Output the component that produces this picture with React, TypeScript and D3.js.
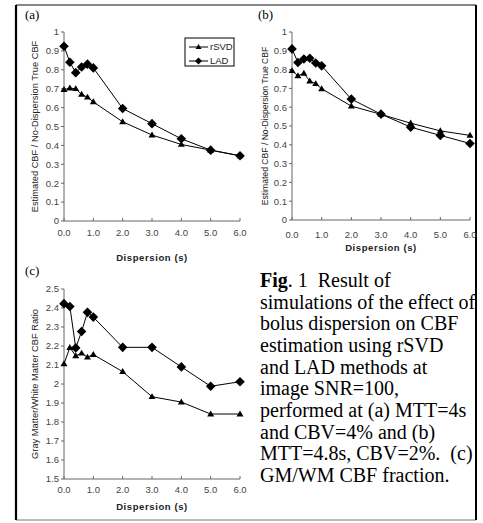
import React from "react";
import * as d3 from "d3";

const dispersion = [0, 0.2, 0.4, 0.6, 0.8, 1, 2, 3, 4, 5, 6];
const aRSVD = [0.695, 0.703, 0.7, 0.67, 0.655, 0.63, 0.525, 0.455, 0.405, 0.375, 0.345];
const aLAD = [0.925, 0.84, 0.785, 0.815, 0.83, 0.81, 0.595, 0.515, 0.435, 0.375, 0.345];
const bRSVD = [0.794, 0.767, 0.78, 0.739, 0.725, 0.698, 0.606, 0.562, 0.515, 0.474, 0.45];
const bLAD = [0.91, 0.838, 0.856, 0.86, 0.835, 0.82, 0.643, 0.563, 0.494, 0.45, 0.407];
const cRSVD = [2.106, 2.192, 2.148, 2.162, 2.141, 2.155, 2.065, 1.933, 1.905, 1.842, 1.842];
const cLAD = [2.423, 2.408, 2.19, 2.276, 2.377, 2.352, 2.193, 2.193, 2.09, 1.988, 2.012];
const xTicks = [0, 1, 2, 3, 4, 5, 6];
const yTicksAB = [0, 0.1, 0.2, 0.3, 0.4, 0.5, 0.6, 0.7, 0.8, 0.9, 1];
const yTicksC = [1.5, 1.6, 1.7, 1.8, 1.9, 2, 2.1, 2.2, 2.3, 2.4, 2.5];
const seriesNames = ["rSVD", "LAD"];
const captionLines = [
  "Result of",
  "simulations of the effect of",
  "bolus dispersion on CBF",
  "estimation using rSVD",
  "and LAD methods at",
  "image SNR=100,",
  "performed at (a) MTT=4s",
  "and CBV=4% and (b)",
  "MTT=4.8s, CBV=2%.  (c)",
  "GM/WM CBF fraction.",
];

const sans = "'Liberation Sans', Arial, sans-serif";
const serif = "'Liberation Serif', 'Times New Roman', serif";

function Diamond({ x, y, r = 4.8 }: { x: number; y: number; r?: number }) {
  return <path d={`M${x},${y - r}L${x + r},${y}L${x},${y + r}L${x - r},${y}Z`} fill="#000" />;
}
function Tri({ x, y, s = 7 }: { x: number; y: number; s?: number }) {
  const h = s * 0.85;
  return <path d={`M${x},${y - h * 0.6}L${x + s / 2},${y + h * 0.4}L${x - s / 2},${y + h * 0.4}Z`} fill="#000" />;
}

type PanelProps = {
  left: number; right: number; top: number; bottom: number;
  yDomain: [number, number]; yTicks: number[]; yFmt: (v: number) => string;
  rsvd: number[]; lad: number[];
  yTitle: string; yTitleX: number; yTitleSize: number;
  xTitleY: number; xLabelY: number;
};

function Panel(p: PanelProps) {
  const x = d3.scaleLinear().domain([0, 6]).range([p.left, p.right]);
  const y = d3.scaleLinear().domain(p.yDomain).range([p.bottom, p.top]);
  const line = d3.line<number>().x((_, i) => x(dispersion[i])).y((v) => y(v));
  const axisColor = "#666";
  return (
    <g>
      <line x1={p.left} x2={p.left} y1={p.top} y2={p.bottom} stroke={axisColor} strokeWidth={1} />
      <line x1={p.left} x2={p.right} y1={p.bottom} y2={p.bottom} stroke={axisColor} strokeWidth={1} />
      {p.yTicks.map((t) => (
        <g key={t}>
          <line x1={p.left - 3} x2={p.left} y1={y(t)} y2={y(t)} stroke={axisColor} />
          <text x={p.left - 5} y={y(t) + 3.3} textAnchor="end" fontSize={9.5} fill="#444" fontFamily={sans}>
            {p.yFmt(t)}
          </text>
        </g>
      ))}
      {xTicks.map((t) => (
        <g key={t}>
          <line x1={x(t)} x2={x(t)} y1={p.bottom - 3} y2={p.bottom} stroke={axisColor} />
          <text x={x(t)} y={p.xLabelY} textAnchor="middle" fontSize={9.5} fill="#444" fontFamily={sans}>
            {t.toFixed(1)}
          </text>
        </g>
      ))}
      <text x={(p.left + p.right) / 2} y={p.xTitleY} textAnchor="middle" fontSize={9.5} fontWeight="bold" letterSpacing={0.6} fill="#222" fontFamily={sans}>
        Dispersion (s)
      </text>
      <text transform={`translate(${p.yTitleX},${(p.top + p.bottom) / 2}) rotate(-90)`} textAnchor="middle" fontSize={p.yTitleSize} fill="#222" fontFamily={sans}>
        {p.yTitle}
      </text>
      <path d={line(p.rsvd) || ""} fill="none" stroke="#000" strokeWidth={1} />
      <path d={line(p.lad) || ""} fill="none" stroke="#000" strokeWidth={1} />
      {p.rsvd.map((v, i) => <Tri key={"r" + i} x={x(dispersion[i])} y={y(v)} />)}
      {p.lad.map((v, i) => <Diamond key={"l" + i} x={x(dispersion[i])} y={y(v)} />)}
    </g>
  );
}

export default function App() {
  const fmtAB = (v: number) => (v === 0 || v === 1 ? String(v) : v.toFixed(1));
  const fmtC = (v: number) => (v === 2 ? "2" : v.toFixed(1));
  const capX = 260;
  const capY0 = 287;
  const capDy = 21.67;
  return (
    <svg width={483} height={523} style={{ position: "absolute", left: 0, top: 0, background: "#fff" }}>
      <rect x={0} y={0} width={483} height={523} fill="#fff" />
      {/* frame */}
      <line x1={16} x2={476} y1={5} y2={5} stroke="#111" strokeWidth={1.2} />
      <line x1={16} x2={476} y1={520} y2={520} stroke="#777" strokeWidth={1} />
      <line x1={16} x2={16} y1={5} y2={520} stroke="#000" strokeWidth={2.2} />
      <line x1={476} x2={476} y1={5} y2={520} stroke="#000" strokeWidth={2} />

      <text x={25} y={19} fontSize={13} fontFamily={serif}>(a)</text>
      <text x={258} y={19} fontSize={13} fontFamily={serif}>(b)</text>
      <text x={25} y={275} fontSize={13} fontFamily={serif}>(c)</text>

      <Panel left={64} right={240} top={32} bottom={221} yDomain={[0, 1]} yTicks={yTicksAB} yFmt={fmtAB}
        rsvd={aRSVD} lad={aLAD} yTitle="Estimated CBF / No-Dispersion True CBF" yTitleX={38} yTitleSize={9.3}
        xTitleY={261} xLabelY={236} />
      <Panel left={292} right={470} top={32} bottom={220} yDomain={[0, 1]} yTicks={yTicksAB} yFmt={fmtAB}
        rsvd={bRSVD} lad={bLAD} yTitle="Estimated CBF / No-Dispersion True CBF" yTitleX={268} yTitleSize={8.6}
        xTitleY={251} xLabelY={238} />
      <Panel left={64} right={240} top={289} bottom={479} yDomain={[1.5, 2.5]} yTicks={yTicksC} yFmt={fmtC}
        rsvd={cRSVD} lad={cLAD} yTitle="Gray Matter/White Matter CBF Ratio" yTitleX={38} yTitleSize={9.3}
        xTitleY={510} xLabelY={493} />

      {/* legend (a) */}
      <rect x={185} y={38} width={49} height={28} fill="#fff" stroke="#000" strokeWidth={1} />
      {seriesNames.map((n, i) => {
        const ly = 47 + i * 14;
        return (
          <g key={n}>
            <line x1={189} x2={208} y1={ly} y2={ly} stroke="#000" />
            {i === 0 ? <Tri x={198.5} y={ly} s={6} /> : <Diamond x={198.5} y={ly} r={3.5} />}
            <text x={210} y={ly + 3.3} fontSize={9.5} fill="#222" fontFamily={sans}>{n}</text>
          </g>
        );
      })}

      {/* caption */}
      <text x={capX} y={capY0} fontSize={20} fontFamily={serif} fill="#000" style={{ whiteSpace: "pre" }}>
        <tspan fontWeight="bold">Fig</tspan>{". 1  " + captionLines[0]}
      </text>
      {captionLines.slice(1).map((l, i) => (
        <text key={i} x={capX} y={capY0 + (i + 1) * capDy} fontSize={20} fontFamily={serif} fill="#000" style={{ whiteSpace: "pre" }}>
          {l}
        </text>
      ))}
    </svg>
  );
}
